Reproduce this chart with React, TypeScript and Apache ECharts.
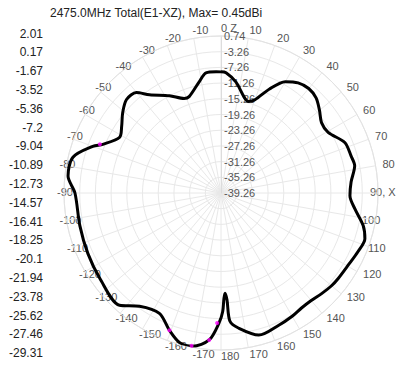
import React, { useEffect, useRef } from "react";
import * as echarts from "echarts";

// Pattern angle (deg, clockwise from Z / top) and gain (dBi)
const angles = [0, 2.4, 7.6, 16.9, 20, 25, 30, 35, 40, 45, 50, 55, 60.5, 67.8, 74.2, 78.5, 85.2, 91.2, 96.8, 102.9, 107.6, 113.1, 119.6, 126.1, 130, 135, 140, 145, 150, 156.4, 165.1, 172.5, 176, 176.8, 177.7, 178.4, 179.2, 180.9, 184.6, 190.5, 195.4, 200.6, 207.1, 215.7, 222.1, 234.8, 245.5, 256.9, 270, 276.3, 283.6, 290, 292.4, 298.8, 303.8, 309.3, 314.7, 319.9, 324, 332.1, 338.7, 341.7, 348.9, 352.9, 357.7, 360];
const gains = [-8.4, -8.6, -10.7, -14.9, -14, -10, -6.5, -5, -4.5, -5, -6.5, -8, -7.9, -5.2, -4.8, -4.5, -6.0, -6.4, -4.9, -2.1, -0.8, -1.3, -2.0, -2.3, -2.5, -3, -3.5, -3.5, -3, -2.5, -1.8, -4.5, -6.5, -12, -13.7, -12.4, -9, -6.1, -1.7, 0.45, 0.3, -1.9, -4.8, -3.7, -0.7, -1.5, -2.0, -2.35, -2.05, -0.05, -0.45, -4.5, -6.7, -9.8, -8.8, -6.9, -5.4, -5.8, -8.3, -11.2, -13.4, -13.4, -10.4, -8.4, -8.35, -8.4];

// magenta marker points
const markerAngles = [291.9, 200.6, 190.9, 184.6, 181.7];
const markerGains = [-6.0, -1.9, 0.4, -1.7, -6.1];

// left-hand scale labels
const scaleLabels = ["2.01", "0.17", "-1.67", "-3.52", "-5.36", "-7.2", "-9.04", "-10.89", "-12.73", "-14.57", "-16.41", "-18.25", "-20.1", "-21.94", "-23.78", "-25.62", "-27.46", "-29.31"];

const title = "2475.0MHz Total(E1-XZ), Max= 0.45dBi";
const radiusMin = -39.26;
const radiusMax = 0.74;
const radiusStep = 4;
const angleStep = 10;

const FONT = "Liberation Sans, Arial, sans-serif";
const LABEL_COLOR = "#555";
const LABEL_SIZE = 11;
const R = 157;
const CX = 221;
const CY = 193;
const MARGIN = -70;
const LABEL_R = 164; // where the label's left edge sits
const CANVAS_W = 398;
// labels that the reference pulls in near the right edge: left-edge x
const leftEdgeOverride: Record<number, number> = { 90: 370, 100: 362, 110: 368 };

function angleText(v: number): string {
  if (v === 360) return "";
  if (v === 0) return "0 Z";
  if (v === 90) return "90, X";
  return String(v > 180 ? v - 360 : v);
}

function measure(txt: string): number {
  const cv = document.createElement("canvas");
  const ctx = cv.getContext("2d");
  if (!ctx) return txt.length * 6;
  ctx.font = `${LABEL_SIZE}px "Liberation Sans"`;
  return ctx.measureText(txt).width;
}

function buildRich() {
  const rich: Record<string, any> = {};
  const h = LABEL_SIZE;
  const rA = R + MARGIN;
  for (let v = 0; v < 360; v += angleStep) {
    const txt = angleText(v);
    const rad = (v * Math.PI) / 180;
    const ss = Math.sin(rad);
    const cc = Math.cos(rad);
    const ax = CX + rA * ss;
    const ay = CY - rA * cc;
    const hc = Math.abs(ax - CX) / R < 0.3;
    const vm = Math.abs(ay - CY) / R < 0.3;
    const w = measure(txt);
    let lx = leftEdgeOverride[v] !== undefined ? leftEdgeOverride[v] : CX + LABEL_R * ss;
    if (lx + w > CANVAS_W - 1) lx = CANVAS_W - 1 - w;
    const tx = lx + w / 2;
    const ty = CY - LABEL_R * cc - 1;
    const pad = [0, 0, 0, 0]; // top right bottom left
    if (hc) {
      const d = 2 * (tx - ax);
      if (d > 0) pad[3] = d;
      else pad[1] = -d;
    } else if (ss > 0) {
      pad[3] = Math.max(0, lx - ax);
    } else {
      pad[1] = Math.max(0, ax - (lx + w));
    }
    if (vm) {
      const d = 2 * (ty - ay);
      if (d > 0) pad[0] = d;
      else pad[2] = -d;
    } else if (cc > 0) {
      pad[2] = Math.max(0, ay - (ty + h / 2));
    } else {
      pad[0] = Math.max(0, ty - h / 2 - ay);
    }
    rich["a" + v] = { padding: pad, color: LABEL_COLOR, fontSize: LABEL_SIZE, fontFamily: FONT };
  }
  return rich;
}

export default function App() {
  const ref = useRef<HTMLDivElement>(null);
  useEffect(() => {
    const chart = echarts.init(ref.current!, null, { renderer: "svg" });
    chart.setOption({
      animation: false,
      backgroundColor: "#fff",
      title: {
        text: title,
        left: 50,
        top: 7,
        padding: 0,
        textStyle: { fontSize: 12, fontWeight: "normal", color: "#222", fontFamily: FONT },
      },
      graphic: scaleLabels.map((t, i) => ({
        type: "text",
        right: 355,
        top: 27.5 + i * 18.8,
        style: { text: t, fill: "#222", font: `12px ${FONT}`, textAlign: "right" },
      })),
      polar: { center: [CX, CY], radius: R },
      angleAxis: {
        type: "value",
        min: 0,
        max: 360,
        interval: angleStep,
        startAngle: 90,
        clockwise: true,
        axisLine: { lineStyle: { color: "#e2e2e2" } },
        axisTick: { show: false },
        axisLabel: {
          margin: MARGIN,
          color: LABEL_COLOR,
          fontSize: LABEL_SIZE,
          fontFamily: FONT,
          formatter: (v: number) => (v === 360 ? "" : `{a${v}|${angleText(v)}}`),
          rich: buildRich(),
        },
        splitLine: { lineStyle: { color: "#e8e8e8", width: 1 } },
      },
      radiusAxis: {
        type: "value",
        min: radiusMin,
        max: radiusMax,
        interval: radiusStep,
        axisLine: { show: true, lineStyle: { color: "#dcdcdc" } },
        axisTick: { show: false },
        axisLabel: {
          color: LABEL_COLOR,
          fontSize: LABEL_SIZE,
          fontFamily: FONT,
          align: "left",
          margin: -3,
          padding: [5, 0, 0, 0],
          formatter: (v: number) => v.toFixed(2),
        },
        splitLine: { lineStyle: { color: "#e8e8e8", width: 1 } },
      },
      series: [
        {
          type: "line",
          coordinateSystem: "polar",
          data: angles.map((a, i) => [gains[i], a]),
          showSymbol: false,
          smooth: 0.3,
          lineStyle: { color: "#000", width: 3 },
          z: 3,
        },
        {
          type: "scatter",
          coordinateSystem: "polar",
          data: markerAngles.map((a, i) => [markerGains[i], a]),
          symbolSize: 4,
          itemStyle: { color: "#ff00ff" },
          z: 4,
        },
      ],
    });
    return () => chart.dispose();
  }, []);
  return (
    <div
      ref={ref}
      style={{ position: "fixed", left: 0, top: 0, width: 398, height: 365, background: "#fff" }}
    />
  );
}
